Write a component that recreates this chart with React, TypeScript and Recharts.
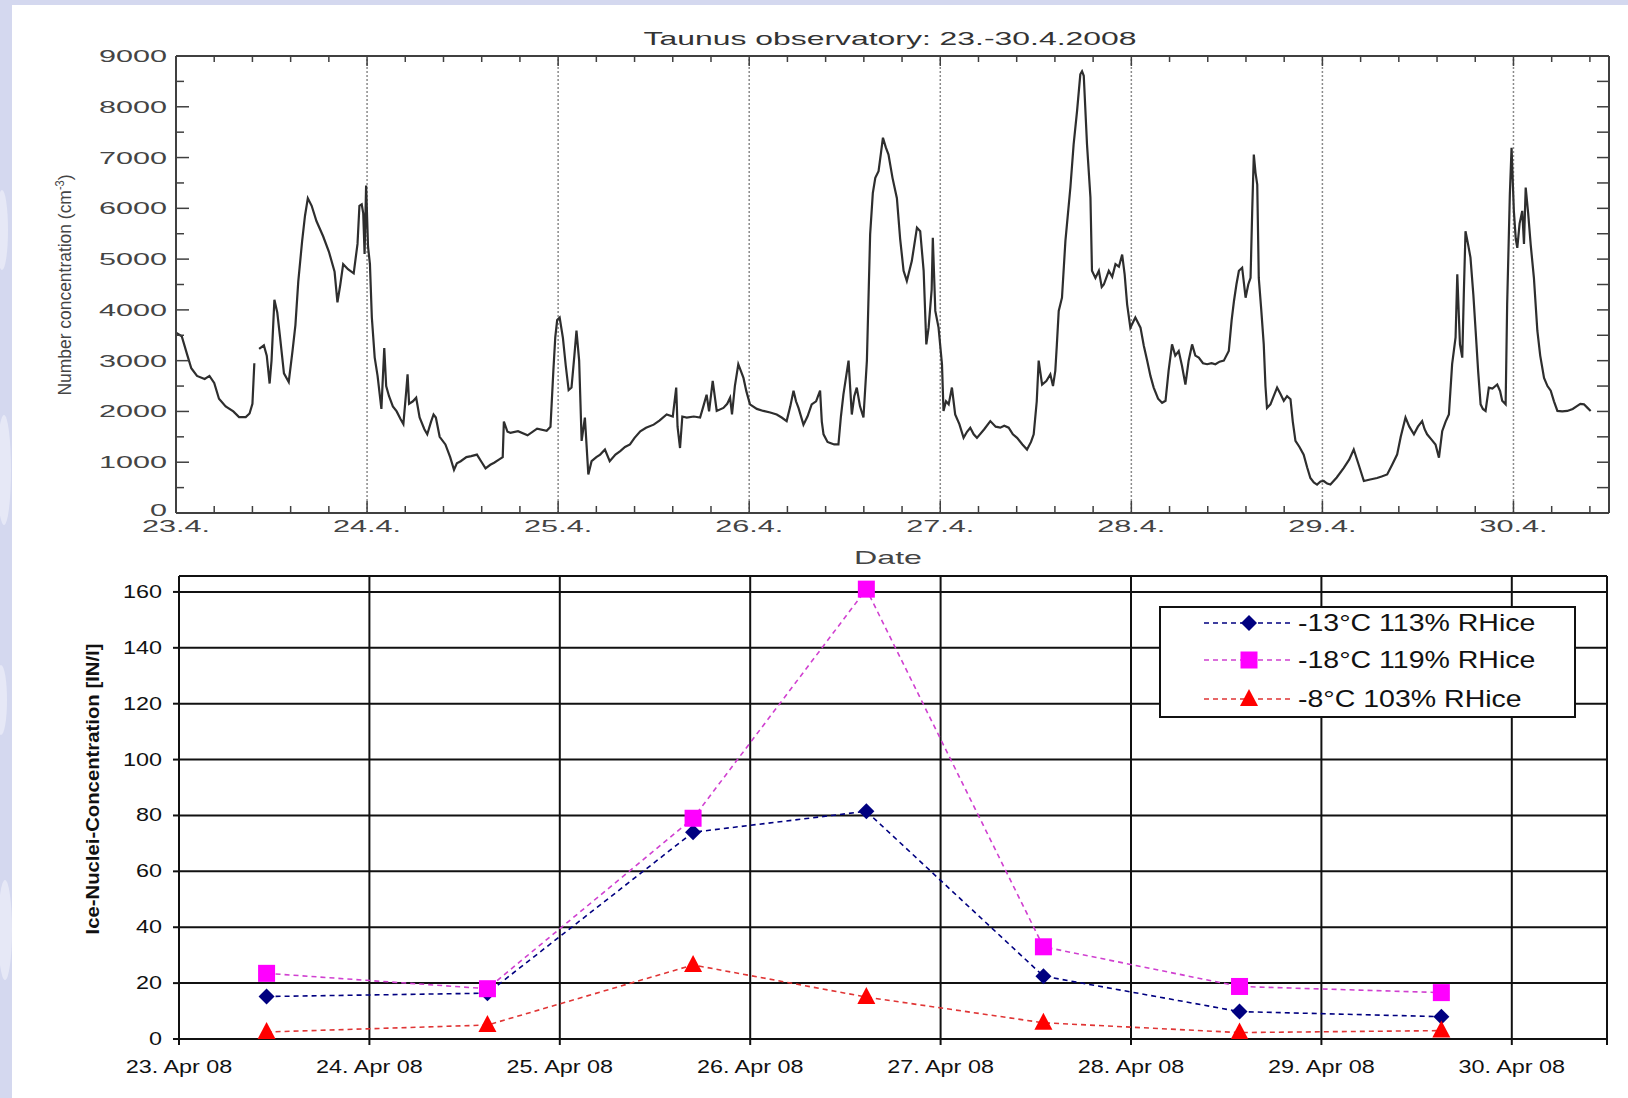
import { LineChart, Line, XAxis, YAxis, CartesianGrid, ReferenceLine, Legend } from 'recharts'

type Pt = [number, number | null]

// particle number concentration, Taunus observatory, time in days after 23.4. 00:00
const day23: Pt[] = [
  [0, 3550], [0.03, 3480], [0.06, 3100], [0.08, 2850], [0.11, 2700], [0.15, 2640], [0.175, 2700], [0.2, 2560],
  [0.225, 2250], [0.26, 2100], [0.3, 2000], [0.33, 1890], [0.365, 1890], [0.385, 1960], [0.4, 2150], [0.41, 2950],
  [0.42, null], [0.435, 3230], [0.46, 3300], [0.475, 3100], [0.49, 2550], [0.5, 3000], [0.515, 4200], [0.53, 3950],
  [0.545, 3450], [0.565, 2750], [0.59, 2580], [0.61, 3200], [0.625, 3700], [0.64, 4560], [0.66, 5350], [0.675, 5850],
  [0.69, 6200], [0.71, 6050], [0.735, 5750], [0.77, 5450], [0.8, 5150], [0.83, 4750], [0.845, 4150], [0.86, 4500],
  [0.875, 4900], [0.9, 4800], [0.93, 4720], [0.95, 5300], [0.96, 6050], [0.972, 6080], [0.98, 5900], [0.987, 5100],
  [0.995, 6450],
]
const day24: Pt[] = [
  [1.005, 5250], [1.015, 4900], [1.025, 3850], [1.04, 3060], [1.055, 2700], [1.075, 2050], [1.09, 3250], [1.1, 2500],
  [1.115, 2300], [1.135, 2100], [1.155, 2000], [1.175, 1850], [1.19, 1750], [1.205, 2400], [1.212, 2730], [1.22, 2150],
  [1.24, 2200], [1.257, 2270], [1.275, 1880], [1.3, 1650], [1.315, 1550], [1.335, 1800], [1.348, 1940], [1.36, 1880],
  [1.38, 1500], [1.41, 1350], [1.435, 1100], [1.455, 850], [1.47, 980], [1.49, 1020], [1.52, 1100], [1.545, 1120],
  [1.575, 1150], [1.6, 1000], [1.62, 880], [1.645, 950], [1.665, 990], [1.69, 1050], [1.71, 1100], [1.716, 1800],
  [1.735, 1600], [1.75, 1580], [1.79, 1610], [1.84, 1530], [1.89, 1660], [1.94, 1620], [1.96, 1700], [1.975, 2800],
  [1.985, 3460], [1.995, 3800],
]
const day25: Pt[] = [
  [2.008, 3850], [2.025, 3450], [2.04, 2900], [2.055, 2420], [2.07, 2470], [2.085, 3100], [2.096, 3590], [2.11, 3000],
  [2.123, 1420], [2.14, 1880], [2.158, 760], [2.175, 1020], [2.2, 1100], [2.22, 1150], [2.245, 1250], [2.27, 1020],
  [2.3, 1150], [2.325, 1220], [2.35, 1300], [2.376, 1350], [2.4, 1480], [2.43, 1610], [2.46, 1680], [2.5, 1740],
  [2.53, 1820], [2.568, 1940], [2.6, 1900], [2.618, 2470], [2.625, 1700], [2.638, 1280], [2.65, 1900], [2.673, 1880],
  [2.71, 1900], [2.743, 1880], [2.76, 2100], [2.777, 2330], [2.79, 2000], [2.809, 2600], [2.83, 2010], [2.865, 2070],
  [2.885, 2150], [2.9, 2270], [2.91, 1940], [2.925, 2500], [2.943, 2930], [2.97, 2660], [2.985, 2400],
]
const day26: Pt[] = [
  [3.004, 2140], [3.04, 2050], [3.074, 2010], [3.11, 1980], [3.144, 1940], [3.17, 1880], [3.196, 1810], [3.215, 2100],
  [3.232, 2410], [3.245, 2200], [3.258, 2070], [3.284, 1740], [3.305, 1900], [3.327, 2140], [3.35, 2200], [3.371, 2410],
  [3.38, 1800], [3.389, 1550], [3.41, 1400], [3.424, 1380], [3.445, 1350], [3.467, 1350], [3.48, 1900], [3.493, 2330],
  [3.52, 3000], [3.537, 1940], [3.55, 2300], [3.563, 2470], [3.58, 2100], [3.598, 1880], [3.616, 3000], [3.633, 5490],
  [3.647, 6300], [3.66, 6600], [3.677, 6730], [3.69, 7100], [3.7, 7390], [3.715, 7200], [3.729, 7060], [3.75, 6600],
  [3.773, 6200], [3.79, 5400], [3.808, 4770], [3.825, 4570], [3.851, 4960], [3.878, 5620], [3.895, 5550], [3.913, 4770],
  [3.927, 3320], [3.939, 3650], [3.955, 4400], [3.961, 5420], [3.974, 3980], [3.991, 3650],
]
const day27: Pt[] = [
  [4.009, 2930], [4.017, 2010], [4.03, 2200], [4.044, 2140], [4.061, 2470], [4.078, 1940], [4.1, 1750], [4.122, 1480],
  [4.14, 1600], [4.157, 1680], [4.175, 1550], [4.192, 1480], [4.23, 1650], [4.262, 1810], [4.29, 1700], [4.314, 1680],
  [4.335, 1720], [4.358, 1680], [4.38, 1550], [4.402, 1480], [4.43, 1350], [4.454, 1250], [4.475, 1400], [4.489, 1550],
  [4.505, 2200], [4.515, 3000], [4.533, 2530], [4.555, 2600], [4.576, 2730], [4.59, 2500], [4.602, 2800], [4.61, 3300],
  [4.62, 3980], [4.637, 4240], [4.655, 5360], [4.681, 6410], [4.698, 7260], [4.716, 7920], [4.733, 8640], [4.742, 8700],
  [4.751, 8610], [4.768, 7260], [4.786, 6210], [4.794, 4770], [4.812, 4630], [4.83, 4770], [4.845, 4450], [4.856, 4500],
  [4.882, 4770], [4.9, 4650], [4.917, 4900], [4.935, 4850], [4.952, 5090], [4.965, 4700], [4.978, 4110], [4.995, 3650],
]
const day28: Pt[] = [
  [5.021, 3850], [5.048, 3650], [5.065, 3300], [5.083, 3000], [5.1, 2700], [5.117, 2470], [5.14, 2250], [5.161, 2170],
  [5.179, 2210], [5.195, 2800], [5.213, 3320], [5.23, 3100], [5.248, 3190], [5.265, 2900], [5.283, 2530], [5.3, 3000],
  [5.318, 3320], [5.335, 3100], [5.353, 3060], [5.375, 2950], [5.397, 2930], [5.42, 2950], [5.44, 2930], [5.462, 2980],
  [5.484, 3000], [5.51, 3190], [5.525, 3800], [5.537, 4170], [5.55, 4500], [5.563, 4770], [5.58, 4830], [5.598, 4240],
  [5.612, 4500], [5.624, 4630], [5.633, 6000], [5.641, 7060], [5.65, 6700], [5.659, 6470], [5.667, 4630], [5.68, 4000],
  [5.693, 3320], [5.702, 2500], [5.71, 2070], [5.728, 2140], [5.745, 2300], [5.763, 2470], [5.78, 2350], [5.798, 2210],
  [5.815, 2300], [5.833, 2240], [5.845, 1800], [5.859, 1420], [5.88, 1300], [5.902, 1150], [5.92, 900], [5.937, 690],
  [5.955, 600], [5.972, 560], [5.99, 620],
]
const day29: Pt[] = [
  [6.007, 630], [6.025, 580], [6.042, 560], [6.075, 700], [6.112, 890], [6.14, 1050], [6.164, 1250], [6.19, 950],
  [6.217, 630], [6.25, 660], [6.286, 690], [6.31, 720], [6.339, 760], [6.365, 950], [6.391, 1150], [6.41, 1500],
  [6.435, 1880], [6.455, 1700], [6.479, 1550], [6.5, 1700], [6.522, 1810], [6.535, 1650], [6.548, 1550], [6.57, 1450],
  [6.592, 1350], [6.61, 1090], [6.627, 1610], [6.645, 1800], [6.662, 1940], [6.679, 2930], [6.697, 3460], [6.706, 4700],
  [6.714, 3900], [6.72, 3320], [6.732, 3060], [6.74, 4300], [6.749, 5550], [6.762, 5300], [6.775, 5030], [6.79, 4300],
  [6.802, 3590], [6.815, 2800], [6.828, 2140], [6.84, 2050], [6.854, 2010], [6.871, 2470], [6.89, 2450], [6.915, 2530],
  [6.93, 2400], [6.941, 2210], [6.959, 2140], [6.967, 4110], [6.981, 6270], [6.99, 7190],
]
const day30: Pt[] = [
  [7.002, 5950], [7.012, 5400], [7.02, 5220], [7.032, 5700], [7.046, 5950], [7.055, 5300], [7.064, 6410], [7.077, 5900],
  [7.09, 5290], [7.107, 4630], [7.125, 3590], [7.14, 3100], [7.16, 2660], [7.178, 2500], [7.195, 2410], [7.212, 2200],
  [7.23, 2010], [7.255, 2000], [7.282, 2010], [7.31, 2050], [7.334, 2110], [7.35, 2150], [7.369, 2140], [7.385, 2080],
  [7.404, 2010],
]

const topDayLabels = ['23.4.', '24.4.', '25.4.', '26.4.', '27.4.', '28.4.', '29.4.', '30.4.']
const topGridDays = [1, 2, 3, 4, 5, 6, 7]

// ice nuclei measurements
const inTimes = [0.46, 1.62, 2.7, 3.61, 4.54, 5.57, 6.63]
const in13 = [15.2, 16.4, 74, 81.5, 22.5, 9.8, 8]
const in18 = [23.5, 18, 79, 161, 33, 18.8, 16.6]
const in8 = [2.5, 5, 26.5, 15, 5.8, 2.3, 3]
const bottomDayLabels = ['23. Apr 08', '24. Apr 08', '25. Apr 08', '26. Apr 08', '27. Apr 08', '28. Apr 08', '29. Apr 08', '30. Apr 08']
const bottomYTicks = [0, 20, 40, 60, 80, 100, 120, 140, 160]

const series = [
  { key: 's13', name: '-13°C 113% RHice', line: '#000080', fill: '#000080', kind: 'diamond' },
  { key: 's18', name: '-18°C 119% RHice', line: '#d040d0', fill: '#ff00ff', kind: 'square' },
  { key: 's8', name: '-8°C 103% RHice', line: '#e03535', fill: '#ff0000', kind: 'triangle' },
]

const topData = [...day23, ...day24, ...day25, ...day26, ...day27, ...day28, ...day29, ...day30].map(([t, v]) => ({ t, v }))
const inData = inTimes.map((t, i) => ({ t, s13: in13[i], s18: in18[i], s8: in8[i] }))

const topXTicks = Array.from({ length: 38 }, (_, i) => Math.round(i * 2) / 10)
const topYTicks = Array.from({ length: 19 }, (_, i) => i * 500)

const FRAME = '#404040'
const FONT = '"Liberation Sans", Arial, sans-serif'

const isDay = (v: number) => Math.abs(v - Math.round(v)) < 1e-6

function TopBottomTick({ x, y, payload }: any) {
  const v = payload.value
  const major = isDay(v)
  return (
    <g>
      {v > 0 && <line x1={x} x2={x} y1={y} y2={y - (major ? 12 : 7)} stroke={FRAME} strokeWidth={1.5} />}
      {major && (
        <text transform={`translate(${x},${y + 19}) scale(1.8,1)`} textAnchor="middle" fontSize={17} fill="#444" fontFamily={FONT}>
          {topDayLabels[Math.round(v)]}
        </text>
      )}
    </g>
  )
}

function TopTopTick({ x, y, payload }: any) {
  const v = payload.value
  if (v <= 0) return <g />
  return <line x1={x} x2={x} y1={y} y2={y + (isDay(v) ? 10 : 6)} stroke={FRAME} strokeWidth={1.5} />
}

function TopLeftTick({ x, y, payload }: any) {
  const v = payload.value
  const major = v % 1000 === 0
  return (
    <g>
      {v > 0 && v < 9000 && <line x1={x} x2={x + (major ? 13 : 8)} y1={y} y2={y} stroke={FRAME} strokeWidth={1.5} />}
      {major && (
        <text transform={`translate(${x - 9},${y + (v === 0 ? 3 : 6)}) scale(1.8,1)`} textAnchor="end" fontSize={17} fill="#444" fontFamily={FONT}>
          {v}
        </text>
      )}
    </g>
  )
}

function TopRightTick({ x, y, payload }: any) {
  const v = payload.value
  if (v <= 0 || v >= 9000) return <g />
  return <line x1={x} x2={x - 12} y1={y} y2={y} stroke={FRAME} strokeWidth={1.5} />
}

function BottomXTick({ x, y, payload }: any) {
  const v = payload.value
  if (!isDay(v)) return <g />
  return (
    <text transform={`translate(${x},${y + 26}) scale(1.3,1)`} textAnchor="middle" fontSize={18} fill="#111" fontFamily={FONT}>
      {bottomDayLabels[Math.round(v)]}
    </text>
  )
}

function BottomYTick({ x, y, payload }: any) {
  return (
    <text transform={`translate(${x},${y + 6}) scale(1.3,1)`} textAnchor="end" fontSize={18} fill="#111" fontFamily={FONT}>
      {payload.value}
    </text>
  )
}

function Marker({ cx, cy, kind, mcolor }: any) {
  if (cx == null || cy == null) return null
  if (kind === 'diamond')
    return <polygon points={`${cx},${cy - 8} ${cx + 8},${cy} ${cx},${cy + 8} ${cx - 8},${cy}`} fill={mcolor} />
  if (kind === 'square') return <rect x={cx - 8.5} y={cy - 8.5} width={17} height={17} fill={mcolor} />
  return <polygon points={`${cx},${cy - 10} ${cx + 9},${cy + 7} ${cx - 9},${cy + 7}`} fill={mcolor} />
}

function LegendBox() {
  const rows = [17, 54, 93]
  return (
    <div style={{ position: 'relative', width: 417, height: 112, boxSizing: 'border-box', border: '2px solid #111', background: '#fff' }}>
      <svg width={417} height={112} style={{ position: 'absolute', left: -2, top: -2 }}>
        {series.map((s, i) => (
          <g key={s.key}>
            <line x1={45} x2={134} y1={rows[i]} y2={rows[i]} stroke={s.line} strokeWidth={1.6} strokeDasharray="5 4" />
            <Marker cx={90} cy={rows[i]} kind={s.kind} mcolor={s.fill} />
            <text transform={`translate(139,${rows[i] + 8}) scale(1.24,1)`} fontSize={23} fill="#111" fontFamily={FONT}>
              {s.name}
            </text>
          </g>
        ))}
      </svg>
    </div>
  )
}

export default function App() {
  return (
    <div style={{ position: 'absolute', left: 0, top: 0, width: 1628, height: 1098, background: '#fff', overflow: 'hidden' }}>
      <div style={{ position: 'absolute', left: 0, top: 0, width: 1628, height: 5, background: '#d4d8ef' }} />
      <svg style={{ position: 'absolute', left: 0, top: 0 }} width={12} height={1098}>
        <rect x={0} y={0} width={12} height={1098} fill="#d4d8ef" />
        <ellipse cx={2} cy={230} rx={6} ry={40} fill="#e6e8f6" />
        <ellipse cx={4} cy={470} rx={7} ry={55} fill="#e6e8f6" />
        <ellipse cx={1} cy={700} rx={6} ry={35} fill="#e6e8f6" />
        <ellipse cx={5} cy={930} rx={7} ry={50} fill="#e6e8f6" />
      </svg>

      <div style={{ position: 'absolute', left: 0, top: 0 }}>
        <LineChart width={1628} height={575} data={topData} margin={{ top: 46, right: 9, bottom: 32, left: 116 }}>
          <XAxis
            dataKey="t"
            type="number"
            domain={[0, 7.5]}
            ticks={topXTicks}
            interval={0}
            height={30}
            tickSize={0}
            tickMargin={0}
            tickLine={false}
            axisLine={{ stroke: FRAME, strokeWidth: 2 }}
            tick={(p: any) => <TopBottomTick {...p} />}
            allowDataOverflow
          />
          <XAxis
            xAxisId="top"
            dataKey="t"
            orientation="top"
            type="number"
            domain={[0, 7.5]}
            ticks={topXTicks}
            interval={0}
            height={10}
            tickSize={0}
            tickMargin={0}
            tickLine={false}
            axisLine={{ stroke: FRAME, strokeWidth: 2 }}
            tick={(p: any) => <TopTopTick {...p} />}
            allowDataOverflow
          />
          <YAxis
            type="number"
            domain={[0, 9000]}
            ticks={topYTicks}
            interval={0}
            width={60}
            tickSize={0}
            tickMargin={0}
            tickLine={false}
            axisLine={{ stroke: FRAME, strokeWidth: 2 }}
            tick={(p: any) => <TopLeftTick {...p} />}
            allowDataOverflow
          />
          <YAxis
            yAxisId="r"
            dataKey="v"
            orientation="right"
            type="number"
            domain={[0, 9000]}
            ticks={topYTicks}
            interval={0}
            width={10}
            tickSize={0}
            tickMargin={0}
            tickLine={false}
            axisLine={{ stroke: FRAME, strokeWidth: 2 }}
            tick={(p: any) => <TopRightTick {...p} />}
            allowDataOverflow
          />
          {topGridDays.map(d => (
            <ReferenceLine key={d} x={d} stroke="#8a8a8a" strokeWidth={1.5} strokeDasharray="2 2" />
          ))}
          <Line type="linear" dataKey="v" stroke="#2e2e2e" strokeWidth={2.2} dot={false} isAnimationActive={false} connectNulls={false} />
        </LineChart>
      </div>

      <div style={{ position: 'absolute', left: 0, top: 560 }}>
        <LineChart width={1628} height={538} data={inData} margin={{ top: 16, right: 21, bottom: 29, left: 119 }}>
          <CartesianGrid stroke="#111" strokeWidth={2} />
          <XAxis
            dataKey="t"
            type="number"
            domain={[0, 7.5]}
            ticks={[0, 1, 2, 3, 4, 5, 6, 7, 7.5]}
            interval={0}
            height={30}
            tickSize={6}
            tickLine={{ stroke: '#111', strokeWidth: 2 }}
            axisLine={{ stroke: '#111', strokeWidth: 2 }}
            tick={(p: any) => <BottomXTick {...p} />}
          />
          <YAxis
            type="number"
            domain={[0, 165.7]}
            ticks={bottomYTicks}
            interval={0}
            width={60}
            tickSize={6}
            tickMargin={11}
            tickLine={{ stroke: '#111', strokeWidth: 2 }}
            axisLine={{ stroke: '#111', strokeWidth: 2 }}
            tick={(p: any) => <BottomYTick {...p} />}
            allowDataOverflow
          />
          {series.map(s => (
            <Line
              key={s.key}
              type="linear"
              dataKey={s.key}
              name={s.name}
              stroke={s.line}
              strokeWidth={1.6}
              strokeDasharray="5 4"
              dot={<Marker kind={s.kind} mcolor={s.fill} />}
              activeDot={false}
              isAnimationActive={false}
            />
          ))}
          <Legend
            layout="vertical"
            align="center"
            verticalAlign="middle"
            wrapperStyle={{ position: 'absolute', left: 1159, top: 46, width: 417, height: 112 }}
            content={() => <LegendBox />}
          />
        </LineChart>
      </div>

      <svg style={{ position: 'absolute', left: 0, top: 0, pointerEvents: 'none' }} width={1628} height={1098}>
        <text x={890} y={45} textAnchor="middle" fontSize={19} fill="#333" fontFamily={FONT} textLength={493} lengthAdjust="spacingAndGlyphs">
          Taunus observatory: 23.-30.4.2008
        </text>
        <text x={888} y={564} textAnchor="middle" fontSize={19} fill="#444" fontFamily={FONT} textLength={68} lengthAdjust="spacingAndGlyphs">
          Date
        </text>
        <text
          transform="translate(71,285) rotate(-90)"
          textAnchor="middle"
          fontSize={19}
          fill="#444"
          fontFamily={'"Liberation Sans Narrow", "Liberation Sans", Arial, sans-serif'}
          textLength={221}
          lengthAdjust="spacingAndGlyphs"
        >
          Number concentration (cm<tspan dy={-7} fontSize={12}>-3</tspan><tspan dy={7}>)</tspan>
        </text>
        <text
          transform="translate(99,789) rotate(-90)"
          textAnchor="middle"
          fontSize={18}
          fontWeight="bold"
          fill="#111"
          fontFamily={FONT}
          textLength={291}
          lengthAdjust="spacingAndGlyphs"
        >
          Ice-Nuclei-Concentration [IN/l]
        </text>
      </svg>
    </div>
  )
}
